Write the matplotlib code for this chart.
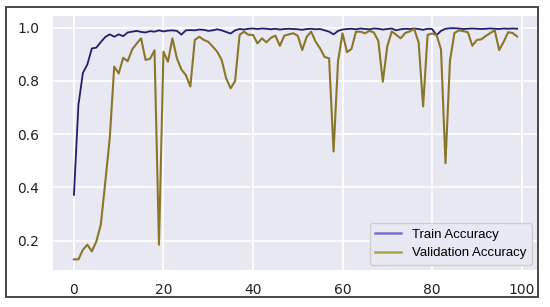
import matplotlib

matplotlib.use("Agg")

import matplotlib.pyplot as plt
from matplotlib.lines import Line2D
from matplotlib.patches import Rectangle

epochs = list(range(100))

train_acc = [
    0.372, 0.71, 0.83, 0.862, 0.922, 0.925, 0.946, 0.965, 0.975, 0.966,
    0.975, 0.968, 0.982, 0.985, 0.988, 0.984, 0.982, 0.987, 0.985, 0.99,
    0.986, 0.989, 0.99, 0.988, 0.974, 0.99, 0.991, 0.99, 0.993, 0.992,
    0.988, 0.99, 0.994, 0.99, 0.984, 0.978, 0.99, 0.995, 0.993, 0.996,
    0.997, 0.995, 0.997, 0.996, 0.994, 0.996, 0.993, 0.995, 0.996, 0.995,
    0.994, 0.992, 0.995, 0.996, 0.994, 0.995, 0.99, 0.985, 0.975, 0.988,
    0.993, 0.995, 0.996, 0.994, 0.997, 0.995, 0.994, 0.997, 0.996, 0.993,
    0.995, 0.997, 0.99, 0.994, 0.996, 0.995, 0.997, 0.995, 0.992, 0.996,
    0.995, 0.972, 0.988, 0.996, 0.998, 0.998, 0.997, 0.995, 0.996, 0.997,
    0.996, 0.995, 0.996, 0.997, 0.996, 0.995, 0.997, 0.996, 0.997, 0.996,
]

val_acc = [
    0.13, 0.13, 0.166, 0.185, 0.16, 0.197, 0.26, 0.42, 0.585, 0.854,
    0.828, 0.887, 0.874, 0.918, 0.94, 0.96, 0.879, 0.883, 0.915, 0.185,
    0.91, 0.872, 0.96, 0.885, 0.843, 0.822, 0.779, 0.954, 0.966, 0.954,
    0.947, 0.929, 0.91, 0.879, 0.81, 0.772, 0.8, 0.973, 0.985, 0.973,
    0.973, 0.941, 0.96, 0.945, 0.962, 0.97, 0.932, 0.97, 0.975, 0.979,
    0.97, 0.916, 0.966, 0.985, 0.947, 0.922, 0.89, 0.885, 0.535, 0.875,
    0.979, 0.908, 0.92, 0.985, 0.985, 0.979, 0.988, 0.982, 0.95, 0.797,
    0.93, 0.986, 0.973, 0.96, 0.98, 0.986, 0.995, 0.945, 0.704, 0.973,
    0.978, 0.973, 0.918, 0.491, 0.875, 0.98, 0.99, 0.987, 0.983, 0.932,
    0.954, 0.956, 0.969, 0.98, 0.99, 0.916, 0.947, 0.983, 0.98, 0.967,
]

x_ticks = [0, 20, 40, 60, 80, 100]
y_ticks = [0.2, 0.4, 0.6, 0.8, 1.0]

fig = plt.figure(figsize=(5.5, 3.07), dpi=100)
ax = fig.add_axes([0.097, 0.1205, 0.879, 0.8275])
ax.set_facecolor("#e8e8f3")
ax.grid(True, color="white", linewidth=1.2)
ax.set_axisbelow(True)
for spine in ax.spines.values():
    spine.set_visible(False)

ax.plot(epochs, train_acc, color="#1f1f6a", linewidth=1.3)
ax.plot(epochs, val_acc, color="#8a7628", linewidth=1.5)

ax.set_xlim(-4.6, 103.4)
ax.set_ylim(0.09, 1.044)
ax.set_xticks(x_ticks)
ax.set_yticks(y_ticks)
ax.set_yticklabels([f"{t:.1f}" for t in y_ticks])
ax.tick_params(axis="both", length=0, labelsize=10, colors="#222222")
ax.tick_params(axis="y", pad=10)
ax.tick_params(axis="x", pad=9)

handles = [
    Line2D([], [], color="#7272c8", linewidth=1.8),
    Line2D([], [], color="#aaa544", linewidth=1.8),
]
ax.legend(
    handles,
    ["Train Accuracy", "Validation Accuracy"],
    loc="lower right",
    prop={"family": "Liberation Sans", "size": 9.5},
    facecolor="#e8e8f3",
    edgecolor="#cccccc",
    framealpha=0.9,
    handlelength=2.0,
    borderaxespad=0.4,
)

# dark frame around the whole picture
fig.patches.append(
    Rectangle(
        (6 / 550, 1 - 297 / 307),
        532 / 550,
        290 / 307,
        transform=fig.transFigure,
        fill=False,
        edgecolor="#3a3a3a",
        linewidth=1.3,
    )
)

fig.savefig("out.png", dpi=100)
plt.close(fig)
